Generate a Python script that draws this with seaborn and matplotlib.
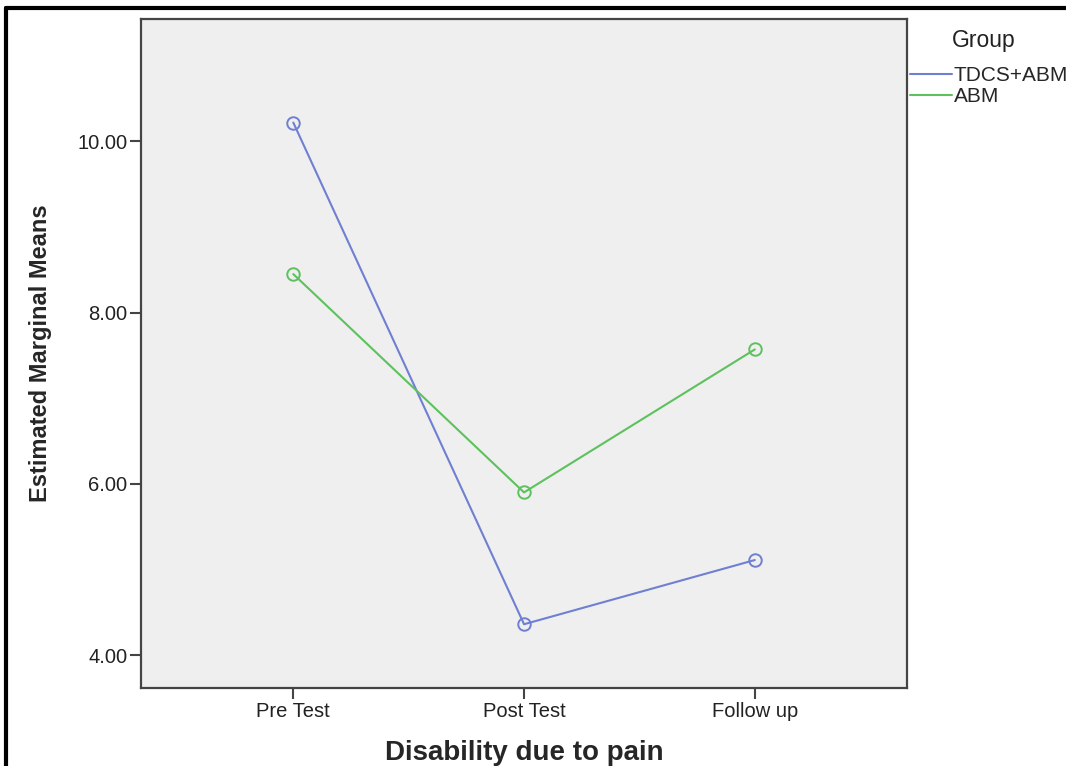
import pandas as pd
import matplotlib.pyplot as plt
import seaborn as sns
from matplotlib.lines import Line2D

# Datos
tiempos = ['Pre Test', 'Post Test', 'Follow up']
tdcs_abm = [10.22, 4.36, 5.11]
abm = [8.45, 5.90, 7.57]
grupos = ['TDCS+ABM', 'ABM']
colores = {'TDCS+ABM': '#6f7fd2', 'ABM': '#5dc15d'}

data = pd.DataFrame({
    'time': tiempos * 2,
    'mean': tdcs_abm + abm,
    'group': [grupos[0]] * 3 + [grupos[1]] * 3,
})

sns.set_style('white')
plt.rcParams['font.family'] = ['Liberation Sans', 'DejaVu Sans']

fig = plt.figure(figsize=(10.66, 7.66), dpi=100)
ax = fig.add_axes([0.1323, 0.1018, 0.7186, 0.8734])
ax.set_facecolor('#efefef')

sns.lineplot(data=data, x='time', y='mean', hue='group', palette=colores,
             marker='o', markersize=9, markerfacecolor='none', markeredgewidth=1.4,
             linewidth=1.5, legend=False, ax=ax)
for line, g in zip(ax.lines, grupos):
    line.set_markeredgecolor(colores[g])

ax.set_xlim(-0.66, 2.66)
ax.set_ylim(3.615, 11.43)
ax.set_yticks([4, 6, 8, 10])
ax.set_yticklabels(['%.2f' % v for v in [4, 6, 8, 10]])
ax.tick_params(axis='both', direction='out', length=8, width=1.5, color='#444444',
               labelsize=14.5, labelcolor='#222222', pad=2, left=True, bottom=True)
for s in ax.spines.values():
    s.set_color('#444444')
    s.set_linewidth(1.6)

ax.set_xlabel('Disability due to pain', fontsize=20, fontweight='bold', labelpad=14)
ax.set_ylabel('Estimated Marginal Means', fontsize=17, fontweight='bold', labelpad=18)

# Leyenda (título aparte, alineado con las etiquetas)
fig.text(952 / 1066, 1 - 41 / 766, 'Group', fontsize=16.5, color='#222222',
         ha='left', va='center')
handles = [Line2D([0], [0], color=colores[g], lw=1.5) for g in grupos]
fig.legend(handles, grupos, loc='upper left',
           bbox_to_anchor=(910 / 1066, 1 - 66 / 766), frameon=False, fontsize=15,
           borderpad=0, borderaxespad=0, handlelength=2.0, handletextpad=0.1,
           labelspacing=0.1)

# Marco exterior (izquierda y arriba)
fig.add_artist(Line2D([0.006, 0.006], [0, 0.99], color='black', lw=3, transform=fig.transFigure))
fig.add_artist(Line2D([0.006, 1.0], [0.99, 0.99], color='black', lw=3, transform=fig.transFigure))

fig.savefig('out.png', dpi=100)
